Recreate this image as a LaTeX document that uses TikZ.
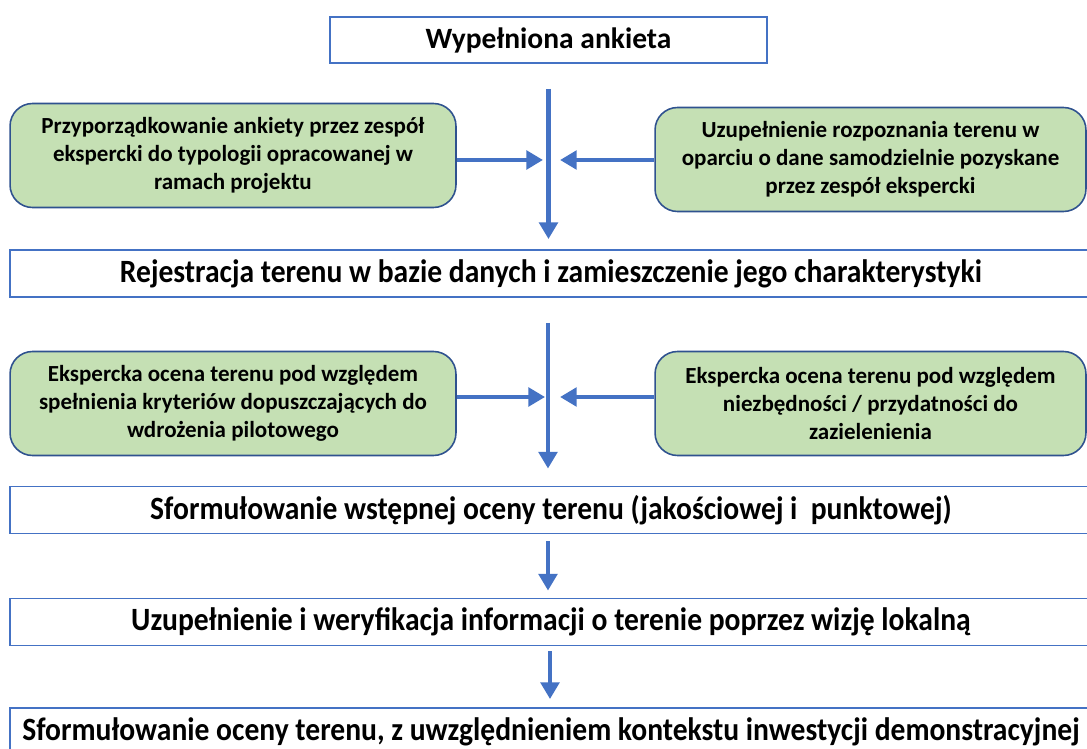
\documentclass[tikz,border=0pt]{standalone}
\usepackage{fontspec}
\usepackage{graphicx}
\setmainfont{Carlito}
\usetikzlibrary{arrows.meta, positioning}
\definecolor{flowblue}{HTML}{4472C4}
\definecolor{edgeblue}{HTML}{2F528F}
\definecolor{leafgreen}{HTML}{C5E0B4}
\newcommand{\narrow}[1]{\scalebox{0.91}[1]{#1}}

\begin{document}
\begin{tikzpicture}[x=0.02cm, y=-0.02cm,
    headbox/.style={draw=flowblue, line width=0.9pt, fill=white, minimum width=8.74cm,
      minimum height=0.92cm, inner sep=0pt, font=\bfseries\fontsize{16.8}{19}\selectfont},
    widebox/.style={draw=flowblue, line width=1.1pt, fill=white, minimum width=21.64cm,
      minimum height=0.94cm, inner sep=0pt, font=\bfseries\fontsize{18.5}{20}\selectfont},
    leafbox/.style={draw=edgeblue, line width=0.9pt, fill=leafgreen, rounded corners=0.45cm,
      minimum height=2.08cm, inner sep=0pt, align=center, font=\bfseries\fontsize{13.1}{16}\selectfont},
    flow/.style={draw=flowblue, line width=2.8pt, -{Triangle[length=9.5pt,width=10.5pt]}}]
  \clip (0,0) rectangle (1087,749);
  \fill[white] (0,0) rectangle (1087,749);

  % boxes
  \node[headbox] (ankieta) at (548.5,40) {Wypełniona ankieta};
  \node[leafbox, minimum width=8.92cm] (typologia) at (233,155.5)
    {Przyporządkowanie ankiety przez zespół\\ekspercki do typologii opracowanej w\\ramach projektu};
  \node[leafbox, minimum width=8.62cm] (rozpoznanie) at (870.5,159.5)
    {Uzupełnienie rozpoznania terenu w\\oparciu o dane samodzielnie pozyskane\\przez zespół ekspercki};
  \node[widebox] (rejestracja) at (551,273.5)
    {\narrow{Rejestracja terenu w bazie danych i zamieszczenie jego charakterystyki}};
  \node[leafbox, minimum width=8.92cm] (kryteria) at (233,403.5)
    {Ekspercka ocena terenu pod względem\\spełnienia kryteriów dopuszczających do\\wdrożenia pilotowego};
  \node[leafbox, minimum width=8.62cm] (przydatnosc) at (870.5,403.5)
    {Ekspercka ocena terenu pod względem\\niezbędności / przydatności do\\zazielenienia};
  \node[widebox] (wstepna) at (551,510)
    {\narrow{Sformułowanie wstępnej oceny terenu (jakościowej i\ \ punktowej)}};
  \node[widebox] (wizja) at (551,622)
    {\narrow{Uzupełnienie i weryfikacja informacji o terenie poprzez wizję lokalną}};
  \node[widebox] (ocena) at (551,731.5)
    {\narrow{Sformułowanie oceny terenu, z uwzględnieniem kontekstu inwestycji demonstracyjnej}};

  % connectors
  \coordinate (hub1) at (548,160);
  \coordinate (hub2) at (548,397);
  \draw[flow, shorten <=0.5cm, shorten >=0.2cm] (ankieta.south) -- (rejestracja.north -| ankieta.south);
  \draw[flow, shorten >=0.1cm] (typologia.east |- hub1) -- (hub1);
  \draw[flow, shorten >=0.24cm] (rozpoznanie.west |- hub1) -- (hub1);
  \draw[flow, shorten <=0.5cm, shorten >=0.34cm] (rejestracja.south -| hub2) -- (wstepna.north -| hub2);
  \draw[flow, shorten >=0.06cm] (kryteria.east |- hub2) -- (hub2);
  \draw[flow, shorten >=0.24cm] (przydatnosc.west |- hub2) -- (hub2);
  \draw[flow, shorten <=0.14cm, shorten >=0.14cm] (wstepna.south -| hub2) -- (wizja.north -| hub2);
  \draw[flow, shorten <=0.1cm, shorten >=0.16cm] (wizja.south -| 550,0) -- (ocena.north -| 550,0);
\end{tikzpicture}
\end{document}
